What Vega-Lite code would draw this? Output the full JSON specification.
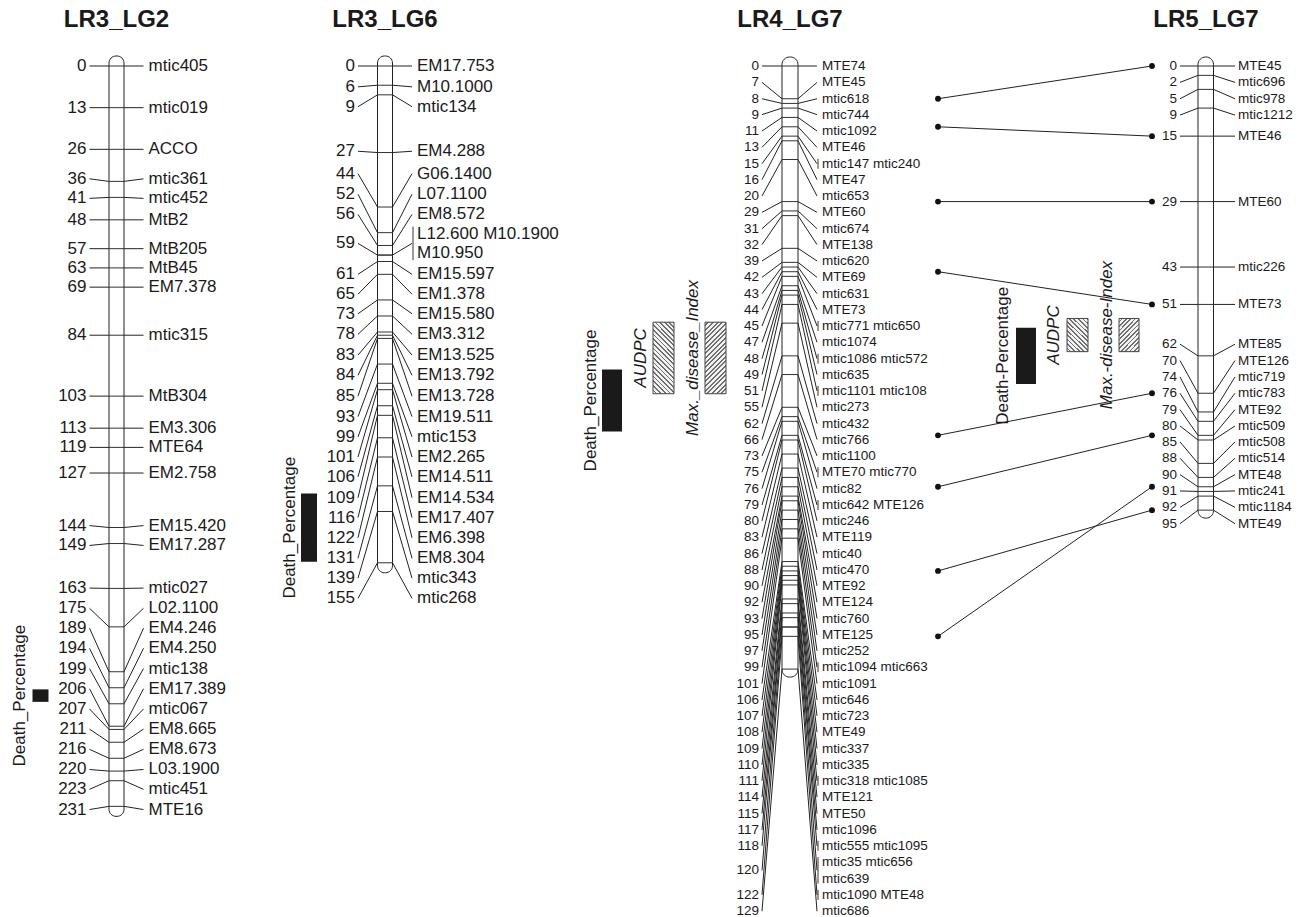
{
  "$schema": "https://vega.github.io/schema/vega-lite/v6.json",
  "background": "white",
  "padding": {"top": 8, "left": 0, "right": 0, "bottom": 0},
  "spacing": 67,
  "bounds": "flush",
  "datasets": {
    "markers": [
      {"lg": "LR3_LG2", "cM": 0, "name": "mtic405", "lpos": 0, "n": 1},
      {"lg": "LR3_LG2", "cM": 13, "name": "mtic019", "lpos": 13, "n": 1},
      {"lg": "LR3_LG2", "cM": 26, "name": "ACCO", "lpos": 26, "n": 1},
      {"lg": "LR3_LG2", "cM": 36, "name": "mtic361", "lpos": 35.2, "n": 1},
      {"lg": "LR3_LG2", "cM": 41, "name": "mtic452", "lpos": 41.3, "n": 1},
      {"lg": "LR3_LG2", "cM": 48, "name": "MtB2", "lpos": 48, "n": 1},
      {"lg": "LR3_LG2", "cM": 57, "name": "MtB205", "lpos": 57, "n": 1},
      {"lg": "LR3_LG2", "cM": 63, "name": "MtB45", "lpos": 63, "n": 1},
      {"lg": "LR3_LG2", "cM": 69, "name": "EM7.378", "lpos": 69, "n": 1},
      {"lg": "LR3_LG2", "cM": 84, "name": "mtic315", "lpos": 84, "n": 1},
      {"lg": "LR3_LG2", "cM": 103, "name": "MtB304", "lpos": 103, "n": 1},
      {"lg": "LR3_LG2", "cM": 113, "name": "EM3.306", "lpos": 113, "n": 1},
      {"lg": "LR3_LG2", "cM": 119, "name": "MTE64", "lpos": 119, "n": 1},
      {"lg": "LR3_LG2", "cM": 127, "name": "EM2.758", "lpos": 127, "n": 1},
      {"lg": "LR3_LG2", "cM": 144, "name": "EM15.420", "lpos": 143.4, "n": 1},
      {"lg": "LR3_LG2", "cM": 149, "name": "EM17.287", "lpos": 149.6, "n": 1},
      {"lg": "LR3_LG2", "cM": 163, "name": "mtic027", "lpos": 162.9, "n": 1},
      {"lg": "LR3_LG2", "cM": 175, "name": "L02.1100", "lpos": 169.2, "n": 1},
      {"lg": "LR3_LG2", "cM": 189, "name": "EM4.246", "lpos": 175.4, "n": 1},
      {"lg": "LR3_LG2", "cM": 194, "name": "EM4.250", "lpos": 181.7, "n": 1},
      {"lg": "LR3_LG2", "cM": 199, "name": "mtic138", "lpos": 188.0, "n": 1},
      {"lg": "LR3_LG2", "cM": 206, "name": "EM17.389", "lpos": 194.3, "n": 1},
      {"lg": "LR3_LG2", "cM": 207, "name": "mtic067", "lpos": 200.6, "n": 1},
      {"lg": "LR3_LG2", "cM": 211, "name": "EM8.665", "lpos": 206.9, "n": 1},
      {"lg": "LR3_LG2", "cM": 216, "name": "EM8.673", "lpos": 213.2, "n": 1},
      {"lg": "LR3_LG2", "cM": 220, "name": "L03.1900", "lpos": 219.5, "n": 1},
      {"lg": "LR3_LG2", "cM": 223, "name": "mtic451", "lpos": 225.7, "n": 1},
      {"lg": "LR3_LG2", "cM": 231, "name": "MTE16", "lpos": 232.0, "n": 1},

      {"lg": "LR3_LG6", "cM": 0, "name": "EM17.753", "lpos": 0, "n": 1},
      {"lg": "LR3_LG6", "cM": 6, "name": "M10.1000", "lpos": 6.5, "n": 1},
      {"lg": "LR3_LG6", "cM": 9, "name": "mtic134", "lpos": 12.7, "n": 1},
      {"lg": "LR3_LG6", "cM": 27, "name": "EM4.288", "lpos": 26.6, "n": 1},
      {"lg": "LR3_LG6", "cM": 44, "name": "G06.1400", "lpos": 33.6, "n": 1},
      {"lg": "LR3_LG6", "cM": 52, "name": "L07.1100", "lpos": 40.0, "n": 1},
      {"lg": "LR3_LG6", "cM": 56, "name": "EM8.572", "lpos": 46.3, "n": 1},
      {"lg": "LR3_LG6", "cM": 59, "name": "L12.600 M10.1900", "lpos": 52.3, "n": 2},
      {"lg": "LR3_LG6", "cM": 59, "name": "M10.950", "lpos": 58.4, "n": 1},
      {"lg": "LR3_LG6", "cM": 61, "name": "EM15.597", "lpos": 65.0, "n": 1},
      {"lg": "LR3_LG6", "cM": 65, "name": "EM1.378", "lpos": 71.2, "n": 1},
      {"lg": "LR3_LG6", "cM": 73, "name": "EM15.580", "lpos": 77.3, "n": 1},
      {"lg": "LR3_LG6", "cM": 78, "name": "EM3.312", "lpos": 83.7, "n": 1},
      {"lg": "LR3_LG6", "cM": 83, "name": "EM13.525", "lpos": 90.2, "n": 1},
      {"lg": "LR3_LG6", "cM": 84, "name": "EM13.792", "lpos": 96.5, "n": 1},
      {"lg": "LR3_LG6", "cM": 85, "name": "EM13.728", "lpos": 103.0, "n": 1},
      {"lg": "LR3_LG6", "cM": 93, "name": "EM19.511", "lpos": 109.4, "n": 1},
      {"lg": "LR3_LG6", "cM": 99, "name": "mtic153", "lpos": 115.7, "n": 1},
      {"lg": "LR3_LG6", "cM": 101, "name": "EM2.265", "lpos": 122.0, "n": 1},
      {"lg": "LR3_LG6", "cM": 106, "name": "EM14.511", "lpos": 128.2, "n": 1},
      {"lg": "LR3_LG6", "cM": 109, "name": "EM14.534", "lpos": 134.7, "n": 1},
      {"lg": "LR3_LG6", "cM": 116, "name": "EM17.407", "lpos": 140.9, "n": 1},
      {"lg": "LR3_LG6", "cM": 122, "name": "EM6.398", "lpos": 147.2, "n": 1},
      {"lg": "LR3_LG6", "cM": 131, "name": "EM8.304", "lpos": 153.6, "n": 1},
      {"lg": "LR3_LG6", "cM": 139, "name": "mtic343", "lpos": 159.8, "n": 1},
      {"lg": "LR3_LG6", "cM": 155, "name": "mtic268", "lpos": 166.1, "n": 1},

      {"lg": "LR4_LG7", "cM": 0, "name": "MTE74", "lpos": 0, "n": 1},
      {"lg": "LR4_LG7", "cM": 7, "name": "MTE45", "lpos": 3.5, "n": 1},
      {"lg": "LR4_LG7", "cM": 8, "name": "mtic618", "lpos": 7.0, "n": 1},
      {"lg": "LR4_LG7", "cM": 9, "name": "mtic744", "lpos": 10.4, "n": 1},
      {"lg": "LR4_LG7", "cM": 11, "name": "mtic1092", "lpos": 13.9, "n": 1},
      {"lg": "LR4_LG7", "cM": 13, "name": "MTE46", "lpos": 17.4, "n": 1},
      {"lg": "LR4_LG7", "cM": 15, "name": "mtic147 mtic240", "lpos": 20.9, "n": 2},
      {"lg": "LR4_LG7", "cM": 16, "name": "MTE47", "lpos": 24.3, "n": 1},
      {"lg": "LR4_LG7", "cM": 20, "name": "mtic653", "lpos": 27.8, "n": 1},
      {"lg": "LR4_LG7", "cM": 29, "name": "MTE60", "lpos": 31.3, "n": 1},
      {"lg": "LR4_LG7", "cM": 31, "name": "mtic674", "lpos": 34.8, "n": 1},
      {"lg": "LR4_LG7", "cM": 32, "name": "MTE138", "lpos": 38.2, "n": 1},
      {"lg": "LR4_LG7", "cM": 39, "name": "mtic620", "lpos": 41.7, "n": 1},
      {"lg": "LR4_LG7", "cM": 42, "name": "MTE69", "lpos": 45.2, "n": 1},
      {"lg": "LR4_LG7", "cM": 43, "name": "mtic631", "lpos": 48.7, "n": 1},
      {"lg": "LR4_LG7", "cM": 44, "name": "MTE73", "lpos": 52.1, "n": 1},
      {"lg": "LR4_LG7", "cM": 45, "name": "mtic771 mtic650", "lpos": 55.6, "n": 2},
      {"lg": "LR4_LG7", "cM": 47, "name": "mtic1074", "lpos": 59.1, "n": 1},
      {"lg": "LR4_LG7", "cM": 48, "name": "mtic1086 mtic572", "lpos": 62.6, "n": 2},
      {"lg": "LR4_LG7", "cM": 49, "name": "mtic635", "lpos": 66.0, "n": 1},
      {"lg": "LR4_LG7", "cM": 51, "name": "mtic1101 mtic108", "lpos": 69.5, "n": 2},
      {"lg": "LR4_LG7", "cM": 55, "name": "mtic273", "lpos": 73.0, "n": 1},
      {"lg": "LR4_LG7", "cM": 62, "name": "mtic432", "lpos": 76.5, "n": 1},
      {"lg": "LR4_LG7", "cM": 66, "name": "mtic766", "lpos": 79.9, "n": 1},
      {"lg": "LR4_LG7", "cM": 73, "name": "mtic1100", "lpos": 83.4, "n": 1},
      {"lg": "LR4_LG7", "cM": 75, "name": "MTE70 mtic770", "lpos": 86.9, "n": 2},
      {"lg": "LR4_LG7", "cM": 76, "name": "mtic82", "lpos": 90.4, "n": 1},
      {"lg": "LR4_LG7", "cM": 79, "name": "mtic642 MTE126", "lpos": 93.9, "n": 2},
      {"lg": "LR4_LG7", "cM": 80, "name": "mtic246", "lpos": 97.3, "n": 1},
      {"lg": "LR4_LG7", "cM": 83, "name": "MTE119", "lpos": 100.8, "n": 1},
      {"lg": "LR4_LG7", "cM": 86, "name": "mtic40", "lpos": 104.3, "n": 1},
      {"lg": "LR4_LG7", "cM": 88, "name": "mtic470", "lpos": 107.8, "n": 1},
      {"lg": "LR4_LG7", "cM": 90, "name": "MTE92", "lpos": 111.2, "n": 1},
      {"lg": "LR4_LG7", "cM": 92, "name": "MTE124", "lpos": 114.7, "n": 1},
      {"lg": "LR4_LG7", "cM": 93, "name": "mtic760", "lpos": 118.2, "n": 1},
      {"lg": "LR4_LG7", "cM": 95, "name": "MTE125", "lpos": 121.7, "n": 1},
      {"lg": "LR4_LG7", "cM": 97, "name": "mtic252", "lpos": 125.1, "n": 1},
      {"lg": "LR4_LG7", "cM": 99, "name": "mtic1094 mtic663", "lpos": 128.6, "n": 2},
      {"lg": "LR4_LG7", "cM": 101, "name": "mtic1091", "lpos": 132.1, "n": 1},
      {"lg": "LR4_LG7", "cM": 106, "name": "mtic646", "lpos": 135.6, "n": 1},
      {"lg": "LR4_LG7", "cM": 107, "name": "mtic723", "lpos": 139.0, "n": 1},
      {"lg": "LR4_LG7", "cM": 108, "name": "MTE49", "lpos": 142.5, "n": 1},
      {"lg": "LR4_LG7", "cM": 109, "name": "mtic337", "lpos": 146.0, "n": 1},
      {"lg": "LR4_LG7", "cM": 110, "name": "mtic335", "lpos": 149.5, "n": 1},
      {"lg": "LR4_LG7", "cM": 111, "name": "mtic318 mtic1085", "lpos": 152.9, "n": 2},
      {"lg": "LR4_LG7", "cM": 114, "name": "MTE121", "lpos": 156.4, "n": 1},
      {"lg": "LR4_LG7", "cM": 115, "name": "MTE50", "lpos": 159.9, "n": 1},
      {"lg": "LR4_LG7", "cM": 117, "name": "mtic1096", "lpos": 163.4, "n": 1},
      {"lg": "LR4_LG7", "cM": 118, "name": "mtic555 mtic1095", "lpos": 166.8, "n": 2},
      {"lg": "LR4_LG7", "cM": 120, "name": "mtic35 mtic656", "lpos": 170.3, "n": 2},
      {"lg": "LR4_LG7", "cM": 120, "name": "mtic639", "lpos": 173.8, "n": 1},
      {"lg": "LR4_LG7", "cM": 122, "name": "mtic1090 MTE48", "lpos": 177.3, "n": 2},
      {"lg": "LR4_LG7", "cM": 129, "name": "mtic686", "lpos": 180.8, "n": 1},

      {"lg": "LR5_LG7", "cM": 0, "name": "MTE45", "lpos": 0, "n": 1},
      {"lg": "LR5_LG7", "cM": 2, "name": "mtic696", "lpos": 3.5, "n": 1},
      {"lg": "LR5_LG7", "cM": 5, "name": "mtic978", "lpos": 7.0, "n": 1},
      {"lg": "LR5_LG7", "cM": 9, "name": "mtic1212", "lpos": 10.5, "n": 1},
      {"lg": "LR5_LG7", "cM": 15, "name": "MTE46", "lpos": 15, "n": 1},
      {"lg": "LR5_LG7", "cM": 29, "name": "MTE60", "lpos": 29, "n": 1},
      {"lg": "LR5_LG7", "cM": 43, "name": "mtic226", "lpos": 43, "n": 1},
      {"lg": "LR5_LG7", "cM": 51, "name": "MTE73", "lpos": 51, "n": 1},
      {"lg": "LR5_LG7", "cM": 62, "name": "MTE85", "lpos": 59.5, "n": 1},
      {"lg": "LR5_LG7", "cM": 70, "name": "MTE126", "lpos": 63.0, "n": 1},
      {"lg": "LR5_LG7", "cM": 74, "name": "mtic719", "lpos": 66.5, "n": 1},
      {"lg": "LR5_LG7", "cM": 76, "name": "mtic783", "lpos": 70.0, "n": 1},
      {"lg": "LR5_LG7", "cM": 79, "name": "MTE92", "lpos": 73.5, "n": 1},
      {"lg": "LR5_LG7", "cM": 80, "name": "mtic509", "lpos": 77.0, "n": 1},
      {"lg": "LR5_LG7", "cM": 85, "name": "mtic508", "lpos": 80.4, "n": 1},
      {"lg": "LR5_LG7", "cM": 88, "name": "mtic514", "lpos": 83.9, "n": 1},
      {"lg": "LR5_LG7", "cM": 90, "name": "MTE48", "lpos": 87.4, "n": 1},
      {"lg": "LR5_LG7", "cM": 91, "name": "mtic241", "lpos": 90.9, "n": 1},
      {"lg": "LR5_LG7", "cM": 92, "name": "mtic1184", "lpos": 94.4, "n": 1},
      {"lg": "LR5_LG7", "cM": 95, "name": "MTE49", "lpos": 97.9, "n": 1}
    ],
    "qtl": [
      {"lg": "LR3_LG2", "trait": "death", "label": "Death_Percentage", "start": 194.5, "end": 198.4},
      {"lg": "LR3_LG6", "trait": "death", "label": "Death_Percentage", "start": 133.4, "end": 154.7},
      {"lg": "LR4_LG7", "trait": "death", "label": "Death_Percentage", "start": 64.9, "end": 78.2},
      {"lg": "LR4_LG7", "trait": "audpc", "label": "AUDPC", "start": 54.8, "end": 70.1},
      {"lg": "LR4_LG7", "trait": "max", "label": "Max._disease_Index", "start": 54.8, "end": 70.1},
      {"lg": "LR5_LG7", "trait": "death", "label": "Death-Percentage", "start": 56.0, "end": 68.0},
      {"lg": "LR5_LG7", "trait": "audpc", "label": "AUDPC", "start": 54.0, "end": 61.1},
      {"lg": "LR5_LG7", "trait": "max", "label": "Max.-disease-Index", "start": 54.0, "end": 61.1}
    ],
    "links": [
      {"marker": "MTE45", "lr4_cM": 7, "lr5_cM": 0},
      {"marker": "MTE46", "lr4_cM": 13, "lr5_cM": 15},
      {"marker": "MTE60", "lr4_cM": 29, "lr5_cM": 29},
      {"marker": "MTE73", "lr4_cM": 44, "lr5_cM": 51},
      {"marker": "MTE126", "lr4_cM": 79, "lr5_cM": 70},
      {"marker": "MTE92", "lr4_cM": 90, "lr5_cM": 79},
      {"marker": "MTE49", "lr4_cM": 108, "lr5_cM": 95},
      {"marker": "MTE48", "lr4_cM": 122, "lr5_cM": 90}
    ]
  },
  "hconcat": [
    {
      "title": "LR3_LG2",
      "width": 233,
      "height": 878,
      "encoding": {"x": {"field": "lg", "type": "nominal", "scale": {"type": "point"}, "axis": null}},
      "layer": [
        {
          "data": {"name": "markers"},
          "transform": [
            {"filter": "datum.lg === 'LR3_LG2'"},
            {"aggregate": [{"op": "min", "field": "cM", "as": "top"}, {"op": "max", "field": "cM", "as": "bot"}], "groupby": ["lg"]}
          ],
          "mark": {"type": "rect", "fill": "white", "stroke": "#222", "strokeWidth": 1, "cornerRadius": 7, "xOffset": -7.5, "x2Offset": 7.5, "yOffset": -10, "y2Offset": 10},
          "encoding": {
            "x2": {"field": "lg"},
            "y": {"field": "top", "type": "quantitative", "scale": {"domain": [-9.36, 264.59], "reverse": true, "nice": false, "zero": false}, "axis": null},
            "y2": {"field": "bot"}
          }
        },
        {
          "data": {"name": "markers"},
          "transform": [{"filter": "datum.lg === 'LR3_LG2'"}],
          "mark": {"type": "rule", "stroke": "#333", "strokeWidth": 1, "xOffset": -7.5, "x2Offset": 7.5},
          "encoding": {"x2": {"field": "lg"}, "y": {"field": "cM", "type": "quantitative", "axis": null}}
        },
        {
          "data": {"name": "markers"},
          "transform": [
            {"filter": "datum.lg === 'LR3_LG2'"},
            {"aggregate": [{"op": "mean", "field": "lpos", "as": "lp"}], "groupby": ["lg", "cM"]}
          ],
          "mark": {"type": "rule", "stroke": "#222", "strokeWidth": 1, "xOffset": -27, "x2Offset": -7.5},
          "encoding": {"x2": {"field": "lg"}, "y": {"field": "lp", "type": "quantitative", "axis": null}, "y2": {"field": "cM"}}
        },
        {
          "data": {"name": "markers"},
          "transform": [
            {"filter": "datum.lg === 'LR3_LG2'"},
            {"aggregate": [{"op": "mean", "field": "lpos", "as": "lp"}], "groupby": ["lg", "cM"]}
          ],
          "mark": {"type": "rule", "stroke": "#222", "strokeWidth": 1, "xOffset": 7.5, "x2Offset": 27},
          "encoding": {"x2": {"field": "lg"}, "y": {"field": "cM", "type": "quantitative", "axis": null}, "y2": {"field": "lp"}}
        },
        {
          "data": {"name": "markers"},
          "transform": [
            {"filter": "datum.lg === 'LR3_LG2'"},
            {"aggregate": [{"op": "mean", "field": "lpos", "as": "lp"}], "groupby": ["lg", "cM"]}
          ],
          "mark": {"type": "text", "align": "right", "baseline": "middle", "xOffset": -30, "fontSize": 17},
          "encoding": {"y": {"field": "lp", "type": "quantitative", "axis": null}, "text": {"field": "cM", "type": "nominal"}}
        },
        {
          "data": {"name": "markers"},
          "transform": [{"filter": "datum.lg === 'LR3_LG2'"}],
          "mark": {"type": "text", "align": "left", "baseline": "middle", "xOffset": 32, "fontSize": 17},
          "encoding": {"y": {"field": "lpos", "type": "quantitative", "axis": null}, "text": {"field": "name", "type": "nominal"}}
        },
        {
          "data": {"name": "qtl"},
          "transform": [{"filter": "datum.lg === 'LR3_LG2'"}],
          "mark": {"type": "rect", "fill": "#1a1a1a", "xOffset": -84, "x2Offset": -68},
          "encoding": {"x2": {"field": "lg"}, "y": {"field": "start", "type": "quantitative", "axis": null}, "y2": {"field": "end"}}
        },
        {
          "data": {"name": "qtl"},
          "transform": [
            {"filter": "datum.lg === 'LR3_LG2'"},
            {"fold": ["start", "end"], "as": ["bound", "pos"]},
            {"aggregate": [{"op": "mean", "field": "pos", "as": "mid"}], "groupby": ["lg", "label"]}
          ],
          "mark": {"type": "text", "angle": 270, "align": "center", "baseline": "middle", "xOffset": -97, "fontSize": 17},
          "encoding": {"y": {"field": "mid", "type": "quantitative", "axis": null}, "text": {"field": "label", "type": "nominal"}}
        }
      ]
    },
    {
      "title": "LR3_LG6",
      "width": 170,
      "height": 878,
      "encoding": {"x": {"field": "lg", "type": "nominal", "scale": {"type": "point"}, "axis": null}},
      "layer": [
        {
          "data": {"name": "markers"},
          "transform": [
            {"filter": "datum.lg === 'LR3_LG6'"},
            {"aggregate": [{"op": "min", "field": "cM", "as": "top"}, {"op": "max", "field": "cM", "as": "bot"}], "groupby": ["lg"]}
          ],
          "mark": {"type": "rect", "fill": "white", "stroke": "#222", "strokeWidth": 1, "cornerRadius": 7, "xOffset": -7.5, "x2Offset": 7.5, "yOffset": -10, "y2Offset": 10},
          "encoding": {
            "x2": {"field": "lg"},
            "y": {"field": "top", "type": "quantitative", "scale": {"domain": [-9.36, 264.59], "reverse": true, "nice": false, "zero": false}, "axis": null},
            "y2": {"field": "bot"}
          }
        },
        {
          "data": {"name": "markers"},
          "transform": [{"filter": "datum.lg === 'LR3_LG6'"}],
          "mark": {"type": "rule", "stroke": "#333", "strokeWidth": 1, "xOffset": -7.5, "x2Offset": 7.5},
          "encoding": {"x2": {"field": "lg"}, "y": {"field": "cM", "type": "quantitative", "axis": null}}
        },
        {
          "data": {"name": "markers"},
          "transform": [
            {"filter": "datum.lg === 'LR3_LG6'"},
            {"aggregate": [{"op": "mean", "field": "lpos", "as": "lp"}], "groupby": ["lg", "cM"]}
          ],
          "mark": {"type": "rule", "stroke": "#222", "strokeWidth": 1, "xOffset": -27, "x2Offset": -7.5},
          "encoding": {"x2": {"field": "lg"}, "y": {"field": "lp", "type": "quantitative", "axis": null}, "y2": {"field": "cM"}}
        },
        {
          "data": {"name": "markers"},
          "transform": [
            {"filter": "datum.lg === 'LR3_LG6'"},
            {"aggregate": [{"op": "mean", "field": "lpos", "as": "lp"}], "groupby": ["lg", "cM"]}
          ],
          "mark": {"type": "rule", "stroke": "#222", "strokeWidth": 1, "xOffset": 7.5, "x2Offset": 27},
          "encoding": {"x2": {"field": "lg"}, "y": {"field": "cM", "type": "quantitative", "axis": null}, "y2": {"field": "lp"}}
        },
        {
          "data": {"name": "markers"},
          "transform": [
            {"filter": "datum.lg === 'LR3_LG6'"},
            {"aggregate": [{"op": "min", "field": "lpos", "as": "b0"}, {"op": "max", "field": "lpos", "as": "b1"}, {"op": "sum", "field": "n", "as": "k"}], "groupby": ["lg", "cM"]},
            {"filter": "datum.k > 1"}
          ],
          "mark": {"type": "rule", "stroke": "#333", "strokeWidth": 1, "xOffset": 28, "x2Offset": 28, "yOffset": -7, "y2Offset": 7},
          "encoding": {"x2": {"field": "lg"}, "y": {"field": "b0", "type": "quantitative", "axis": null}, "y2": {"field": "b1"}}
        },
        {
          "data": {"name": "markers"},
          "transform": [
            {"filter": "datum.lg === 'LR3_LG6'"},
            {"aggregate": [{"op": "mean", "field": "lpos", "as": "lp"}], "groupby": ["lg", "cM"]}
          ],
          "mark": {"type": "text", "align": "right", "baseline": "middle", "xOffset": -30, "fontSize": 17},
          "encoding": {"y": {"field": "lp", "type": "quantitative", "axis": null}, "text": {"field": "cM", "type": "nominal"}}
        },
        {
          "data": {"name": "markers"},
          "transform": [{"filter": "datum.lg === 'LR3_LG6'"}],
          "mark": {"type": "text", "align": "left", "baseline": "middle", "xOffset": 32, "fontSize": 17},
          "encoding": {"y": {"field": "lpos", "type": "quantitative", "axis": null}, "text": {"field": "name", "type": "nominal"}}
        },
        {
          "data": {"name": "qtl"},
          "transform": [{"filter": "datum.lg === 'LR3_LG6'"}],
          "mark": {"type": "rect", "fill": "#1a1a1a", "xOffset": -84, "x2Offset": -68},
          "encoding": {"x2": {"field": "lg"}, "y": {"field": "start", "type": "quantitative", "axis": null}, "y2": {"field": "end"}}
        },
        {
          "data": {"name": "qtl"},
          "transform": [
            {"filter": "datum.lg === 'LR3_LG6'"},
            {"fold": ["start", "end"], "as": ["bound", "pos"]},
            {"aggregate": [{"op": "mean", "field": "pos", "as": "mid"}], "groupby": ["lg", "label"]}
          ],
          "mark": {"type": "text", "angle": 270, "align": "center", "baseline": "middle", "xOffset": -95, "fontSize": 17},
          "encoding": {"y": {"field": "mid", "type": "quantitative", "axis": null}, "text": {"field": "label", "type": "nominal"}}
        }
      ]
    },
    {
      "title": "LR4_LG7",
      "width": 506,
      "height": 878,
      "encoding": {"x": {"field": "lg", "type": "nominal", "scale": {"type": "point"}, "axis": null}},
      "layer": [
        {
          "data": {"name": "markers"},
          "transform": [
            {"filter": "datum.lg === 'LR4_LG7'"},
            {"aggregate": [{"op": "min", "field": "cM", "as": "top"}, {"op": "max", "field": "cM", "as": "bot"}], "groupby": ["lg"]}
          ],
          "mark": {"type": "rect", "fill": "white", "stroke": "#222", "strokeWidth": 1, "cornerRadius": 7.5, "xOffset": -8, "x2Offset": 8, "yOffset": -9, "y2Offset": 8},
          "encoding": {
            "x2": {"field": "lg"},
            "y": {"field": "top", "type": "quantitative", "scale": {"domain": [-6.42, 181.39], "reverse": true, "nice": false, "zero": false}, "axis": null},
            "y2": {"field": "bot"}
          }
        },
        {
          "data": {"name": "markers"},
          "transform": [{"filter": "datum.lg === 'LR4_LG7'"}],
          "mark": {"type": "rule", "stroke": "#333", "strokeWidth": 1, "xOffset": -8, "x2Offset": 8},
          "encoding": {"x2": {"field": "lg"}, "y": {"field": "cM", "type": "quantitative", "axis": null}}
        },
        {
          "data": {"name": "markers"},
          "transform": [
            {"filter": "datum.lg === 'LR4_LG7'"},
            {"aggregate": [{"op": "mean", "field": "lpos", "as": "lp"}], "groupby": ["lg", "cM"]}
          ],
          "mark": {"type": "rule", "stroke": "#222", "strokeWidth": 1, "xOffset": -28, "x2Offset": -8},
          "encoding": {"x2": {"field": "lg"}, "y": {"field": "lp", "type": "quantitative", "axis": null}, "y2": {"field": "cM"}}
        },
        {
          "data": {"name": "markers"},
          "transform": [
            {"filter": "datum.lg === 'LR4_LG7'"},
            {"aggregate": [{"op": "mean", "field": "lpos", "as": "lp"}], "groupby": ["lg", "cM"]}
          ],
          "mark": {"type": "rule", "stroke": "#222", "strokeWidth": 1, "xOffset": 8, "x2Offset": 27},
          "encoding": {"x2": {"field": "lg"}, "y": {"field": "cM", "type": "quantitative", "axis": null}, "y2": {"field": "lp"}}
        },
        {
          "data": {"name": "markers"},
          "transform": [
            {"filter": "datum.lg === 'LR4_LG7'"},
            {"aggregate": [{"op": "min", "field": "lpos", "as": "b0"}, {"op": "max", "field": "lpos", "as": "b1"}, {"op": "sum", "field": "n", "as": "k"}], "groupby": ["lg", "cM"]},
            {"filter": "datum.k > 1"}
          ],
          "mark": {"type": "rule", "stroke": "#333", "strokeWidth": 1, "xOffset": 28, "x2Offset": 28, "yOffset": -5, "y2Offset": 5},
          "encoding": {"x2": {"field": "lg"}, "y": {"field": "b0", "type": "quantitative", "axis": null}, "y2": {"field": "b1"}}
        },
        {
          "data": {"name": "markers"},
          "transform": [
            {"filter": "datum.lg === 'LR4_LG7'"},
            {"aggregate": [{"op": "mean", "field": "lpos", "as": "lp"}], "groupby": ["lg", "cM"]}
          ],
          "mark": {"type": "text", "align": "right", "baseline": "middle", "xOffset": -31, "fontSize": 13.5},
          "encoding": {"y": {"field": "lp", "type": "quantitative", "axis": null}, "text": {"field": "cM", "type": "nominal"}}
        },
        {
          "data": {"name": "markers"},
          "transform": [{"filter": "datum.lg === 'LR4_LG7'"}],
          "mark": {"type": "text", "align": "left", "baseline": "middle", "xOffset": 32, "fontSize": 13.5},
          "encoding": {"y": {"field": "lpos", "type": "quantitative", "axis": null}, "text": {"field": "name", "type": "nominal"}}
        },
        {
          "data": {"name": "qtl"},
          "transform": [{"filter": "datum.lg === 'LR4_LG7' && datum.trait === 'death'"}],
          "mark": {"type": "rect", "fill": "#1a1a1a", "xOffset": -188, "x2Offset": -168},
          "encoding": {"x2": {"field": "lg"}, "y": {"field": "start", "type": "quantitative", "axis": null}, "y2": {"field": "end"}}
        },
        {
          "data": {"name": "qtl"},
          "transform": [{"filter": "datum.lg === 'LR4_LG7' && datum.trait === 'audpc'"}],
          "mark": {
            "type": "rect", "stroke": "#444", "strokeWidth": 1, "xOffset": -137, "x2Offset": -116,
            "fill": {"gradient": "linear", "x1": 0, "y1": 1, "x2": 0.353, "y2": -0.2, "stops": [
              {"offset": 0, "color": "#f2f2f2"}, {"offset": 0.03, "color": "#f2f2f2"}, {"offset": 0.03, "color": "#707070"}, {"offset": 0.05, "color": "#707070"},
              {"offset": 0.05, "color": "#f2f2f2"}, {"offset": 0.08, "color": "#f2f2f2"}, {"offset": 0.08, "color": "#707070"}, {"offset": 0.10, "color": "#707070"},
              {"offset": 0.10, "color": "#f2f2f2"}, {"offset": 0.13, "color": "#f2f2f2"}, {"offset": 0.13, "color": "#707070"}, {"offset": 0.15, "color": "#707070"},
              {"offset": 0.15, "color": "#f2f2f2"}, {"offset": 0.18, "color": "#f2f2f2"}, {"offset": 0.18, "color": "#707070"}, {"offset": 0.20, "color": "#707070"},
              {"offset": 0.20, "color": "#f2f2f2"}, {"offset": 0.23, "color": "#f2f2f2"}, {"offset": 0.23, "color": "#707070"}, {"offset": 0.25, "color": "#707070"},
              {"offset": 0.25, "color": "#f2f2f2"}, {"offset": 0.28, "color": "#f2f2f2"}, {"offset": 0.28, "color": "#707070"}, {"offset": 0.30, "color": "#707070"},
              {"offset": 0.30, "color": "#f2f2f2"}, {"offset": 0.33, "color": "#f2f2f2"}, {"offset": 0.33, "color": "#707070"}, {"offset": 0.35, "color": "#707070"},
              {"offset": 0.35, "color": "#f2f2f2"}, {"offset": 0.38, "color": "#f2f2f2"}, {"offset": 0.38, "color": "#707070"}, {"offset": 0.40, "color": "#707070"},
              {"offset": 0.40, "color": "#f2f2f2"}, {"offset": 0.43, "color": "#f2f2f2"}, {"offset": 0.43, "color": "#707070"}, {"offset": 0.45, "color": "#707070"},
              {"offset": 0.45, "color": "#f2f2f2"}, {"offset": 0.48, "color": "#f2f2f2"}, {"offset": 0.48, "color": "#707070"}, {"offset": 0.50, "color": "#707070"},
              {"offset": 0.50, "color": "#f2f2f2"}, {"offset": 0.53, "color": "#f2f2f2"}, {"offset": 0.53, "color": "#707070"}, {"offset": 0.55, "color": "#707070"},
              {"offset": 0.55, "color": "#f2f2f2"}, {"offset": 0.58, "color": "#f2f2f2"}, {"offset": 0.58, "color": "#707070"}, {"offset": 0.60, "color": "#707070"},
              {"offset": 0.60, "color": "#f2f2f2"}, {"offset": 0.63, "color": "#f2f2f2"}, {"offset": 0.63, "color": "#707070"}, {"offset": 0.65, "color": "#707070"},
              {"offset": 0.65, "color": "#f2f2f2"}, {"offset": 0.68, "color": "#f2f2f2"}, {"offset": 0.68, "color": "#707070"}, {"offset": 0.70, "color": "#707070"},
              {"offset": 0.70, "color": "#f2f2f2"}, {"offset": 0.73, "color": "#f2f2f2"}, {"offset": 0.73, "color": "#707070"}, {"offset": 0.75, "color": "#707070"},
              {"offset": 0.75, "color": "#f2f2f2"}, {"offset": 0.78, "color": "#f2f2f2"}, {"offset": 0.78, "color": "#707070"}, {"offset": 0.80, "color": "#707070"},
              {"offset": 0.80, "color": "#f2f2f2"}, {"offset": 0.83, "color": "#f2f2f2"}, {"offset": 0.83, "color": "#707070"}, {"offset": 0.85, "color": "#707070"},
              {"offset": 0.85, "color": "#f2f2f2"}, {"offset": 0.88, "color": "#f2f2f2"}, {"offset": 0.88, "color": "#707070"}, {"offset": 0.90, "color": "#707070"},
              {"offset": 0.90, "color": "#f2f2f2"}, {"offset": 0.93, "color": "#f2f2f2"}, {"offset": 0.93, "color": "#707070"}, {"offset": 0.95, "color": "#707070"},
              {"offset": 0.95, "color": "#f2f2f2"}, {"offset": 0.98, "color": "#f2f2f2"}, {"offset": 0.98, "color": "#707070"}, {"offset": 1, "color": "#707070"}
            ]}
          },
          "encoding": {"x2": {"field": "lg"}, "y": {"field": "start", "type": "quantitative", "axis": null}, "y2": {"field": "end"}}
        },
        {
          "data": {"name": "qtl"},
          "transform": [{"filter": "datum.lg === 'LR4_LG7' && datum.trait === 'max'"}],
          "mark": {
            "type": "rect", "stroke": "#444", "strokeWidth": 1, "xOffset": -85, "x2Offset": -64,
            "fill": {"gradient": "linear", "x1": 0, "y1": 0, "x2": 0.353, "y2": 1.2, "stops": [
              {"offset": 0, "color": "#f2f2f2"}, {"offset": 0.03, "color": "#f2f2f2"}, {"offset": 0.03, "color": "#707070"}, {"offset": 0.05, "color": "#707070"},
              {"offset": 0.05, "color": "#f2f2f2"}, {"offset": 0.08, "color": "#f2f2f2"}, {"offset": 0.08, "color": "#707070"}, {"offset": 0.10, "color": "#707070"},
              {"offset": 0.10, "color": "#f2f2f2"}, {"offset": 0.13, "color": "#f2f2f2"}, {"offset": 0.13, "color": "#707070"}, {"offset": 0.15, "color": "#707070"},
              {"offset": 0.15, "color": "#f2f2f2"}, {"offset": 0.18, "color": "#f2f2f2"}, {"offset": 0.18, "color": "#707070"}, {"offset": 0.20, "color": "#707070"},
              {"offset": 0.20, "color": "#f2f2f2"}, {"offset": 0.23, "color": "#f2f2f2"}, {"offset": 0.23, "color": "#707070"}, {"offset": 0.25, "color": "#707070"},
              {"offset": 0.25, "color": "#f2f2f2"}, {"offset": 0.28, "color": "#f2f2f2"}, {"offset": 0.28, "color": "#707070"}, {"offset": 0.30, "color": "#707070"},
              {"offset": 0.30, "color": "#f2f2f2"}, {"offset": 0.33, "color": "#f2f2f2"}, {"offset": 0.33, "color": "#707070"}, {"offset": 0.35, "color": "#707070"},
              {"offset": 0.35, "color": "#f2f2f2"}, {"offset": 0.38, "color": "#f2f2f2"}, {"offset": 0.38, "color": "#707070"}, {"offset": 0.40, "color": "#707070"},
              {"offset": 0.40, "color": "#f2f2f2"}, {"offset": 0.43, "color": "#f2f2f2"}, {"offset": 0.43, "color": "#707070"}, {"offset": 0.45, "color": "#707070"},
              {"offset": 0.45, "color": "#f2f2f2"}, {"offset": 0.48, "color": "#f2f2f2"}, {"offset": 0.48, "color": "#707070"}, {"offset": 0.50, "color": "#707070"},
              {"offset": 0.50, "color": "#f2f2f2"}, {"offset": 0.53, "color": "#f2f2f2"}, {"offset": 0.53, "color": "#707070"}, {"offset": 0.55, "color": "#707070"},
              {"offset": 0.55, "color": "#f2f2f2"}, {"offset": 0.58, "color": "#f2f2f2"}, {"offset": 0.58, "color": "#707070"}, {"offset": 0.60, "color": "#707070"},
              {"offset": 0.60, "color": "#f2f2f2"}, {"offset": 0.63, "color": "#f2f2f2"}, {"offset": 0.63, "color": "#707070"}, {"offset": 0.65, "color": "#707070"},
              {"offset": 0.65, "color": "#f2f2f2"}, {"offset": 0.68, "color": "#f2f2f2"}, {"offset": 0.68, "color": "#707070"}, {"offset": 0.70, "color": "#707070"},
              {"offset": 0.70, "color": "#f2f2f2"}, {"offset": 0.73, "color": "#f2f2f2"}, {"offset": 0.73, "color": "#707070"}, {"offset": 0.75, "color": "#707070"},
              {"offset": 0.75, "color": "#f2f2f2"}, {"offset": 0.78, "color": "#f2f2f2"}, {"offset": 0.78, "color": "#707070"}, {"offset": 0.80, "color": "#707070"},
              {"offset": 0.80, "color": "#f2f2f2"}, {"offset": 0.83, "color": "#f2f2f2"}, {"offset": 0.83, "color": "#707070"}, {"offset": 0.85, "color": "#707070"},
              {"offset": 0.85, "color": "#f2f2f2"}, {"offset": 0.88, "color": "#f2f2f2"}, {"offset": 0.88, "color": "#707070"}, {"offset": 0.90, "color": "#707070"},
              {"offset": 0.90, "color": "#f2f2f2"}, {"offset": 0.93, "color": "#f2f2f2"}, {"offset": 0.93, "color": "#707070"}, {"offset": 0.95, "color": "#707070"},
              {"offset": 0.95, "color": "#f2f2f2"}, {"offset": 0.98, "color": "#f2f2f2"}, {"offset": 0.98, "color": "#707070"}, {"offset": 1, "color": "#707070"}
            ]}
          },
          "encoding": {"x2": {"field": "lg"}, "y": {"field": "start", "type": "quantitative", "axis": null}, "y2": {"field": "end"}}
        },
        {
          "data": {"name": "qtl"},
          "transform": [
            {"filter": "datum.lg === 'LR4_LG7' && datum.trait === 'death'"},
            {"fold": ["start", "end"], "as": ["bound", "pos"]},
            {"aggregate": [{"op": "mean", "field": "pos", "as": "mid"}], "groupby": ["lg", "label"]}
          ],
          "mark": {"type": "text", "angle": 270, "align": "center", "baseline": "middle", "xOffset": -199, "fontSize": 17},
          "encoding": {"y": {"field": "mid", "type": "quantitative", "axis": null}, "text": {"field": "label", "type": "nominal"}}
        },
        {
          "data": {"name": "qtl"},
          "transform": [
            {"filter": "datum.lg === 'LR4_LG7' && datum.trait === 'audpc'"},
            {"fold": ["start", "end"], "as": ["bound", "pos"]},
            {"aggregate": [{"op": "mean", "field": "pos", "as": "mid"}], "groupby": ["lg", "label"]}
          ],
          "mark": {"type": "text", "angle": 270, "align": "center", "baseline": "middle", "xOffset": -149, "fontSize": 17, "fontStyle": "italic"},
          "encoding": {"y": {"field": "mid", "type": "quantitative", "axis": null}, "text": {"field": "label", "type": "nominal"}}
        },
        {
          "data": {"name": "qtl"},
          "transform": [
            {"filter": "datum.lg === 'LR4_LG7' && datum.trait === 'max'"},
            {"fold": ["start", "end"], "as": ["bound", "pos"]},
            {"aggregate": [{"op": "mean", "field": "pos", "as": "mid"}], "groupby": ["lg", "label"]}
          ],
          "mark": {"type": "text", "angle": 270, "align": "center", "baseline": "middle", "xOffset": -97, "fontSize": 17, "fontStyle": "italic"},
          "encoding": {"y": {"field": "mid", "type": "quantitative", "axis": null}, "text": {"field": "label", "type": "nominal"}}
        }
      ]
    },
    {
      "title": "LR5_LG7",
      "width": 192,
      "height": 878,
      "encoding": {"x": {"field": "lg", "type": "nominal", "scale": {"type": "point"}, "axis": null}},
      "layer": [
        {
          "data": {"name": "markers"},
          "transform": [
            {"filter": "datum.lg === 'LR5_LG7'"},
            {"aggregate": [{"op": "min", "field": "cM", "as": "top"}, {"op": "max", "field": "cM", "as": "bot"}], "groupby": ["lg"]}
          ],
          "mark": {"type": "rect", "fill": "white", "stroke": "#222", "strokeWidth": 1, "cornerRadius": 7.5, "xOffset": -8, "x2Offset": 7.5, "yOffset": -9, "y2Offset": 8},
          "encoding": {
            "x2": {"field": "lg"},
            "y": {"field": "top", "type": "quantitative", "scale": {"domain": [-6.42, 181.39], "reverse": true, "nice": false, "zero": false}, "axis": null},
            "y2": {"field": "bot"}
          }
        },
        {
          "data": {"name": "markers"},
          "transform": [{"filter": "datum.lg === 'LR5_LG7'"}],
          "mark": {"type": "rule", "stroke": "#333", "strokeWidth": 1, "xOffset": -8, "x2Offset": 7.5},
          "encoding": {"x2": {"field": "lg"}, "y": {"field": "cM", "type": "quantitative", "axis": null}}
        },
        {
          "data": {"name": "markers"},
          "transform": [
            {"filter": "datum.lg === 'LR5_LG7'"},
            {"aggregate": [{"op": "mean", "field": "lpos", "as": "lp"}], "groupby": ["lg", "cM"]}
          ],
          "mark": {"type": "rule", "stroke": "#222", "strokeWidth": 1, "xOffset": -26, "x2Offset": -8},
          "encoding": {"x2": {"field": "lg"}, "y": {"field": "lp", "type": "quantitative", "axis": null}, "y2": {"field": "cM"}}
        },
        {
          "data": {"name": "markers"},
          "transform": [
            {"filter": "datum.lg === 'LR5_LG7'"},
            {"aggregate": [{"op": "mean", "field": "lpos", "as": "lp"}], "groupby": ["lg", "cM"]}
          ],
          "mark": {"type": "rule", "stroke": "#222", "strokeWidth": 1, "xOffset": 7.5, "x2Offset": 29},
          "encoding": {"x2": {"field": "lg"}, "y": {"field": "cM", "type": "quantitative", "axis": null}, "y2": {"field": "lp"}}
        },
        {
          "data": {"name": "markers"},
          "transform": [
            {"filter": "datum.lg === 'LR5_LG7'"},
            {"aggregate": [{"op": "mean", "field": "lpos", "as": "lp"}], "groupby": ["lg", "cM"]}
          ],
          "mark": {"type": "text", "align": "right", "baseline": "middle", "xOffset": -29, "fontSize": 13.5},
          "encoding": {"y": {"field": "lp", "type": "quantitative", "axis": null}, "text": {"field": "cM", "type": "nominal"}}
        },
        {
          "data": {"name": "markers"},
          "transform": [{"filter": "datum.lg === 'LR5_LG7'"}],
          "mark": {"type": "text", "align": "left", "baseline": "middle", "xOffset": 32, "fontSize": 13.5},
          "encoding": {"y": {"field": "lpos", "type": "quantitative", "axis": null}, "text": {"field": "name", "type": "nominal"}}
        },
        {
          "data": {"name": "links"},
          "mark": {"type": "rule", "stroke": "#222", "strokeWidth": 1, "xOffset": -268, "x2Offset": -54},
          "encoding": {
            "x": {"datum": "LR5_LG7", "type": "nominal", "scale": {"type": "point"}, "axis": null},
            "x2": {"datum": "LR5_LG7"},
            "y": {"field": "lr4_cM", "type": "quantitative", "axis": null},
            "y2": {"field": "lr5_cM"}
          }
        },
        {
          "data": {"name": "links"},
          "mark": {"type": "circle", "size": 34, "color": "#111", "opacity": 1, "xOffset": -268},
          "encoding": {
            "x": {"datum": "LR5_LG7", "type": "nominal", "scale": {"type": "point"}, "axis": null},
            "y": {"field": "lr4_cM", "type": "quantitative", "axis": null}
          }
        },
        {
          "data": {"name": "links"},
          "mark": {"type": "circle", "size": 34, "color": "#111", "opacity": 1, "xOffset": -54},
          "encoding": {
            "x": {"datum": "LR5_LG7", "type": "nominal", "scale": {"type": "point"}, "axis": null},
            "y": {"field": "lr5_cM", "type": "quantitative", "axis": null}
          }
        },
        {
          "data": {"name": "qtl"},
          "transform": [{"filter": "datum.lg === 'LR5_LG7' && datum.trait === 'death'"}],
          "mark": {"type": "rect", "fill": "#1a1a1a", "xOffset": -190, "x2Offset": -170},
          "encoding": {"x2": {"field": "lg"}, "y": {"field": "start", "type": "quantitative", "axis": null}, "y2": {"field": "end"}}
        },
        {
          "data": {"name": "qtl"},
          "transform": [{"filter": "datum.lg === 'LR5_LG7' && datum.trait === 'audpc'"}],
          "mark": {
            "type": "rect", "stroke": "#444", "strokeWidth": 1, "xOffset": -139, "x2Offset": -118,
            "fill": {"gradient": "linear", "x1": 0, "y1": 1, "x2": 0.722, "y2": -0.17, "stops": [
              {"offset": 0, "color": "#f2f2f2"}, {"offset": 0.05, "color": "#f2f2f2"}, {"offset": 0.05, "color": "#707070"}, {"offset": 0.0833, "color": "#707070"},
              {"offset": 0.0833, "color": "#f2f2f2"}, {"offset": 0.1333, "color": "#f2f2f2"}, {"offset": 0.1333, "color": "#707070"}, {"offset": 0.1667, "color": "#707070"},
              {"offset": 0.1667, "color": "#f2f2f2"}, {"offset": 0.2167, "color": "#f2f2f2"}, {"offset": 0.2167, "color": "#707070"}, {"offset": 0.25, "color": "#707070"},
              {"offset": 0.25, "color": "#f2f2f2"}, {"offset": 0.3, "color": "#f2f2f2"}, {"offset": 0.3, "color": "#707070"}, {"offset": 0.3333, "color": "#707070"},
              {"offset": 0.3333, "color": "#f2f2f2"}, {"offset": 0.3833, "color": "#f2f2f2"}, {"offset": 0.3833, "color": "#707070"}, {"offset": 0.4167, "color": "#707070"},
              {"offset": 0.4167, "color": "#f2f2f2"}, {"offset": 0.4667, "color": "#f2f2f2"}, {"offset": 0.4667, "color": "#707070"}, {"offset": 0.5, "color": "#707070"},
              {"offset": 0.5, "color": "#f2f2f2"}, {"offset": 0.55, "color": "#f2f2f2"}, {"offset": 0.55, "color": "#707070"}, {"offset": 0.5833, "color": "#707070"},
              {"offset": 0.5833, "color": "#f2f2f2"}, {"offset": 0.6333, "color": "#f2f2f2"}, {"offset": 0.6333, "color": "#707070"}, {"offset": 0.6667, "color": "#707070"},
              {"offset": 0.6667, "color": "#f2f2f2"}, {"offset": 0.7167, "color": "#f2f2f2"}, {"offset": 0.7167, "color": "#707070"}, {"offset": 0.75, "color": "#707070"},
              {"offset": 0.75, "color": "#f2f2f2"}, {"offset": 0.8, "color": "#f2f2f2"}, {"offset": 0.8, "color": "#707070"}, {"offset": 0.8333, "color": "#707070"},
              {"offset": 0.8333, "color": "#f2f2f2"}, {"offset": 0.8833, "color": "#f2f2f2"}, {"offset": 0.8833, "color": "#707070"}, {"offset": 0.9167, "color": "#707070"},
              {"offset": 0.9167, "color": "#f2f2f2"}, {"offset": 0.9667, "color": "#f2f2f2"}, {"offset": 0.9667, "color": "#707070"}, {"offset": 1, "color": "#707070"}
            ]}
          },
          "encoding": {"x2": {"field": "lg"}, "y": {"field": "start", "type": "quantitative", "axis": null}, "y2": {"field": "end"}}
        },
        {
          "data": {"name": "qtl"},
          "transform": [{"filter": "datum.lg === 'LR5_LG7' && datum.trait === 'max'"}],
          "mark": {
            "type": "rect", "stroke": "#444", "strokeWidth": 1, "xOffset": -87, "x2Offset": -67,
            "fill": {"gradient": "linear", "x1": 0, "y1": 0, "x2": 0.722, "y2": 1.17, "stops": [
              {"offset": 0, "color": "#f2f2f2"}, {"offset": 0.05, "color": "#f2f2f2"}, {"offset": 0.05, "color": "#707070"}, {"offset": 0.0833, "color": "#707070"},
              {"offset": 0.0833, "color": "#f2f2f2"}, {"offset": 0.1333, "color": "#f2f2f2"}, {"offset": 0.1333, "color": "#707070"}, {"offset": 0.1667, "color": "#707070"},
              {"offset": 0.1667, "color": "#f2f2f2"}, {"offset": 0.2167, "color": "#f2f2f2"}, {"offset": 0.2167, "color": "#707070"}, {"offset": 0.25, "color": "#707070"},
              {"offset": 0.25, "color": "#f2f2f2"}, {"offset": 0.3, "color": "#f2f2f2"}, {"offset": 0.3, "color": "#707070"}, {"offset": 0.3333, "color": "#707070"},
              {"offset": 0.3333, "color": "#f2f2f2"}, {"offset": 0.3833, "color": "#f2f2f2"}, {"offset": 0.3833, "color": "#707070"}, {"offset": 0.4167, "color": "#707070"},
              {"offset": 0.4167, "color": "#f2f2f2"}, {"offset": 0.4667, "color": "#f2f2f2"}, {"offset": 0.4667, "color": "#707070"}, {"offset": 0.5, "color": "#707070"},
              {"offset": 0.5, "color": "#f2f2f2"}, {"offset": 0.55, "color": "#f2f2f2"}, {"offset": 0.55, "color": "#707070"}, {"offset": 0.5833, "color": "#707070"},
              {"offset": 0.5833, "color": "#f2f2f2"}, {"offset": 0.6333, "color": "#f2f2f2"}, {"offset": 0.6333, "color": "#707070"}, {"offset": 0.6667, "color": "#707070"},
              {"offset": 0.6667, "color": "#f2f2f2"}, {"offset": 0.7167, "color": "#f2f2f2"}, {"offset": 0.7167, "color": "#707070"}, {"offset": 0.75, "color": "#707070"},
              {"offset": 0.75, "color": "#f2f2f2"}, {"offset": 0.8, "color": "#f2f2f2"}, {"offset": 0.8, "color": "#707070"}, {"offset": 0.8333, "color": "#707070"},
              {"offset": 0.8333, "color": "#f2f2f2"}, {"offset": 0.8833, "color": "#f2f2f2"}, {"offset": 0.8833, "color": "#707070"}, {"offset": 0.9167, "color": "#707070"},
              {"offset": 0.9167, "color": "#f2f2f2"}, {"offset": 0.9667, "color": "#f2f2f2"}, {"offset": 0.9667, "color": "#707070"}, {"offset": 1, "color": "#707070"}
            ]}
          },
          "encoding": {"x2": {"field": "lg"}, "y": {"field": "start", "type": "quantitative", "axis": null}, "y2": {"field": "end"}}
        },
        {
          "data": {"name": "qtl"},
          "transform": [
            {"filter": "datum.lg === 'LR5_LG7' && datum.trait === 'death'"},
            {"fold": ["start", "end"], "as": ["bound", "pos"]},
            {"aggregate": [{"op": "mean", "field": "pos", "as": "mid"}], "groupby": ["lg", "label"]}
          ],
          "mark": {"type": "text", "angle": 270, "align": "center", "baseline": "middle", "xOffset": -203, "fontSize": 17},
          "encoding": {"y": {"field": "mid", "type": "quantitative", "axis": null}, "text": {"field": "label", "type": "nominal"}}
        },
        {
          "data": {"name": "qtl"},
          "transform": [
            {"filter": "datum.lg === 'LR5_LG7' && datum.trait === 'audpc'"},
            {"fold": ["start", "end"], "as": ["bound", "pos"]},
            {"aggregate": [{"op": "mean", "field": "pos", "as": "mid"}], "groupby": ["lg", "label"]}
          ],
          "mark": {"type": "text", "angle": 270, "align": "center", "baseline": "middle", "xOffset": -152, "fontSize": 17, "fontStyle": "italic"},
          "encoding": {"y": {"field": "mid", "type": "quantitative", "axis": null}, "text": {"field": "label", "type": "nominal"}}
        },
        {
          "data": {"name": "qtl"},
          "transform": [
            {"filter": "datum.lg === 'LR5_LG7' && datum.trait === 'max'"},
            {"fold": ["start", "end"], "as": ["bound", "pos"]},
            {"aggregate": [{"op": "mean", "field": "pos", "as": "mid"}], "groupby": ["lg", "label"]}
          ],
          "mark": {"type": "text", "angle": 270, "align": "center", "baseline": "middle", "xOffset": -99, "fontSize": 17, "fontStyle": "italic"},
          "encoding": {"y": {"field": "mid", "type": "quantitative", "axis": null}, "text": {"field": "label", "type": "nominal"}}
        }
      ]
    }
  ],
  "config": {
    "view": {"stroke": null},
    "axis": {"disable": true},
    "title": {"font": "Liberation Sans", "fontSize": 24, "fontWeight": "bold", "color": "#1a1a1a", "offset": 4},
    "text": {"font": "Liberation Sans", "color": "#1a1a1a"}
  }
}
